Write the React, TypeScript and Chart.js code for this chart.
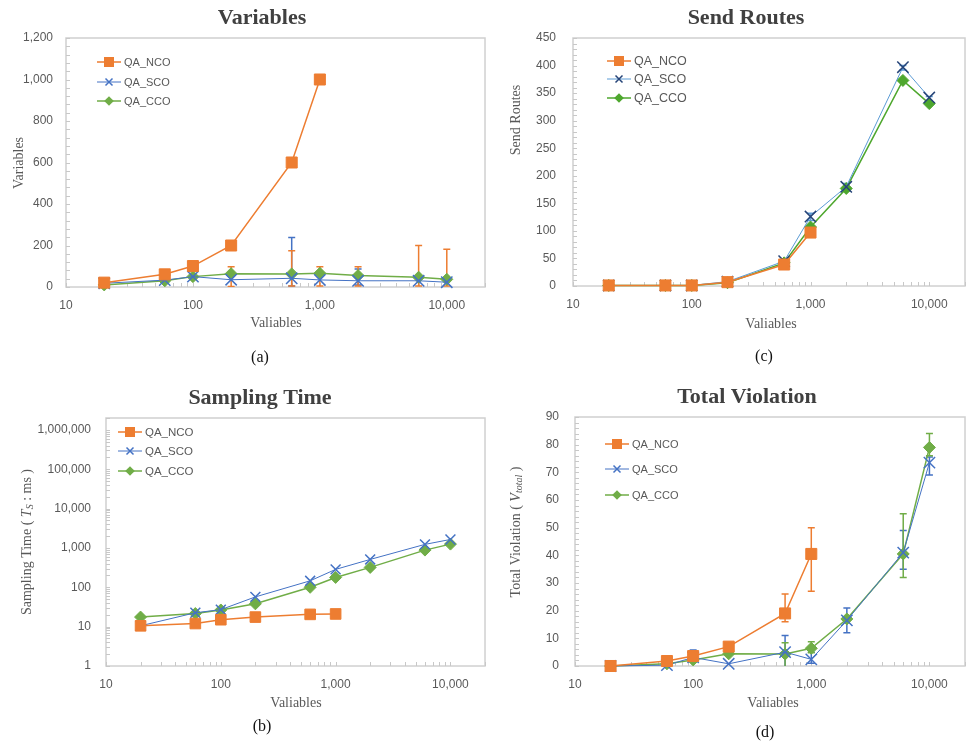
import React, { useEffect, useRef } from 'react';
import { Chart, registerables } from 'chart.js';

Chart.register(...registerables);

// ---------- DATA ----------
const xVals = [20, 60, 100, 200, 600, 1000, 2000, 6000, 10000];
const seriesNames = ['QA_NCO', 'QA_SCO', 'QA_CCO'];
const xTickVals = [10, 100, 1000, 10000];

// (a) Variables
const varNCO = [21, 61, 101, 200, 600, 1000];
const varSCO = [18, 33, 50, 35, 42, 34, 30, 30, 23];
const varCCO = [10, 30, 50, 64, 63, 66, 55, 47, 37];
const varErrSCO = [null, null, null, null, [5, 238], null, [10, 87], null, null];
const varErrCCO = [null, null, null, [2, 98], [5, 175], [5, 98], [5, 98], [5, 200], [5, 182]];
const varYTicks = [0, 200, 400, 600, 800, 1000, 1200];

// (b) Sampling Time
const timeNCO = [10.5, 12, 15, 17.5, 20.5, 21];
const timeSCO = [10.5, 22.5, 27, 57, 146, 285, 510, 1230, 1640];
const timeCCO = [17.5, 21.5, 26.5, 38, 100, 178, 320, 880, 1250];
const timeYTicks = [1, 10, 100, 1000, 10000, 100000, 1000000];

// (c) Send Routes
const routeNCO = [1, 1, 1, 7, 39, 97];
const routeSCO = [1, 1, 1, 8, 45, 126, 180, 397, 342];
const routeCCO = [1, 1, 1, 6, 42, 107, 177, 373, 331];
const routeErrSCO = [null, null, null, null, null, [119, 132], [172, 186], [392, 400], [336, 344]];
const routeYTicks = [0, 50, 100, 150, 200, 250, 300, 350, 400, 450];

// (d) Total Violation
const violNCO = [0, 1.8, 3.6, 7, 19, 40.5];
const violSCO = [0, 0.3, 3.1, 0.8, 5, 2.4, 16.5, 41, 73.5];
const violCCO = [0, 0.8, 2.2, 4.4, 4.3, 6.4, 17, 40.5, 79];
const violErrNCO = [null, null, null, null, [16, 26], [27, 50]];
const violErrSCO = [null, null, [1.5, 5.8], null, [0, 11], [1, 5], [12, 21], [35, 49], [69, 75.5]];
const violErrCCO = [null, null, null, null, [0, 8.4], [4.8, 8.8], null, [32, 55], [76, 84]];
const violYTicks = [0, 10, 20, 30, 40, 50, 60, 70, 80, 90];

// ---------- STYLE ----------
const ORANGE = '#ED7D31';
const BLUE = '#4472C4';
const GREEN = '#70AD47';

type Seg = { t: string; italic?: boolean; sub?: boolean };

function toPts(vals: number[]) {
  return vals.map((v, i) => ({ x: xVals[i], y: v }));
}

function drawMarker(ctx: CanvasRenderingContext2D, style: string, x: number, y: number, r: number, color: string) {
  ctx.save();
  ctx.fillStyle = color;
  ctx.strokeStyle = color;
  ctx.lineWidth = 1.5;
  if (style === 'rect') {
    ctx.fillRect(x - r, y - r, 2 * r, 2 * r);
  } else if (style === 'rectRot') {
    ctx.beginPath();
    ctx.moveTo(x - r, y);
    ctx.lineTo(x, y - r);
    ctx.lineTo(x + r, y);
    ctx.lineTo(x, y + r);
    ctx.closePath();
    ctx.fill();
  } else {
    ctx.beginPath();
    ctx.moveTo(x - r, y - r);
    ctx.lineTo(x + r, y + r);
    ctx.moveTo(x + r, y - r);
    ctx.lineTo(x - r, y + r);
    ctx.stroke();
  }
  ctx.restore();
}

function drawRich(ctx: CanvasRenderingContext2D, segs: Seg[], cx: number, cy: number, rotate: boolean, size: number) {
  ctx.save();
  ctx.translate(cx, cy);
  if (rotate) ctx.rotate(-Math.PI / 2);
  const fontOf = (s: Seg) => `${s.italic ? 'italic ' : ''}${s.sub ? Math.round(size * 0.72) : size}px "Liberation Serif"`;
  let total = 0;
  const widths = segs.map((s) => {
    ctx.font = fontOf(s);
    const w = ctx.measureText(s.t).width;
    total += w;
    return w;
  });
  let x = -total / 2;
  ctx.textBaseline = 'middle';
  ctx.textAlign = 'left';
  ctx.fillStyle = '#595959';
  segs.forEach((s, i) => {
    ctx.font = fontOf(s);
    ctx.fillText(s.t, x, s.sub ? 3 : 0);
    x += widths[i];
  });
  ctx.restore();
}

interface Panel {
  left: number; top: number; width: number; height: number;
  area: { left: number; top: number; right: number; bottom: number };
  title: string; titlePos: [number, number];
  yTitle: Seg[]; yTitlePos: [number, number];
  xTitlePos: [number, number];
  caption: string; captionPos: [number, number];
  legend: { x1: number; x2: number; tx: number; ys: number[]; font: number };
  yLog: boolean; yMin: number; yMax: number; yTicks: number[]; yMinorStep: number;
  yPad: number;
  datasets: any[];
}

const legendMarkers = [
  { style: 'rect', r: 5, color: ORANGE },
  { style: 'crossRot', r: 3.5, color: BLUE },
  { style: 'rectRot', r: 4.8, color: GREEN },
];

function series(vals: number[], i: number, opts: any = {}) {
  const base = [
    { color: ORANGE, pointStyle: 'rect', pointRadius: 7.8, borderWidth: 1.5 },
    { color: BLUE, pointStyle: 'crossRot', pointRadius: 8, borderWidth: 1 },
    { color: GREEN, pointStyle: 'rectRot', pointRadius: 6, borderWidth: 1.5 },
  ][i];
  const color = opts.color || base.color;
  return {
    label: seriesNames[i],
    data: toPts(vals),
    borderColor: color,
    backgroundColor: opts.markerColor || color,
    pointBackgroundColor: opts.markerColor || color,
    pointBorderColor: opts.markerColor || color,
    pointBorderWidth: i === 1 ? 1.5 : 1,
    pointStyle: base.pointStyle,
    pointRadius: opts.pointRadius || base.pointRadius,
    borderWidth: base.borderWidth,
    tension: 0,
    showLine: true,
    clip: false,
    errorBars: opts.errorBars || null,
    errorColor: opts.errorColor || color,
  };
}

const panels: Panel[] = [
  {
    left: 0, top: 0, width: 488, height: 370,
    area: { left: 66, top: 38, right: 485, bottom: 287 },
    title: 'Variables', titlePos: [262, 18],
    yTitle: [{ t: 'Variables' }], yTitlePos: [19, 163],
    xTitlePos: [276, 323],
    caption: '(a)', captionPos: [260, 358],
    legend: { x1: 97, x2: 121, tx: 124, ys: [62, 82, 101], font: 11 },
    yLog: false, yMin: 0, yMax: 1200, yTicks: varYTicks, yMinorStep: 40, yPad: 13,
    datasets: [
      series(varNCO, 0),
      series(varSCO, 1, { errorBars: varErrSCO }),
      series(varCCO, 2, { errorBars: varErrCCO, errorColor: ORANGE }),
    ],
  },
  {
    left: 488, top: 0, width: 478, height: 370,
    area: { left: 85, top: 38, right: 477, bottom: 286 },
    title: 'Send Routes', titlePos: [258, 18],
    yTitle: [{ t: 'Send Routes' }], yTitlePos: [28, 120],
    xTitlePos: [283, 324],
    caption: '(c)', captionPos: [276, 357],
    legend: { x1: 119, x2: 143, tx: 146, ys: [61, 79, 98], font: 12.5 },
    yLog: false, yMin: 0, yMax: 450, yTicks: routeYTicks, yMinorStep: 10, yPad: 17,
    datasets: [
      series(routeNCO, 0),
      series(routeSCO, 1, { color: '#5B9BD5', markerColor: '#264478', errorBars: routeErrSCO }),
      series(routeCCO, 2, { color: '#4EA72E' }),
    ],
  },
  {
    left: 0, top: 370, width: 488, height: 373,
    area: { left: 106, top: 48, right: 485, bottom: 296 },
    title: 'Sampling Time', titlePos: [260, 28],
    yTitle: [{ t: 'Sampling Time ( ' }, { t: 'T', italic: true }, { t: 'S', italic: true, sub: true }, { t: ' : ms )' }],
    yTitlePos: [27, 172],
    xTitlePos: [296, 333],
    caption: '(b)', captionPos: [262, 357],
    legend: { x1: 118, x2: 142, tx: 145, ys: [62, 81, 101], font: 11.5 },
    yLog: true, yMin: 1, yMax: 2000000, yTicks: timeYTicks, yMinorStep: 0, yPad: 15,
    datasets: [
      series(timeNCO, 0, { pointRadius: 7.5 }),
      series(timeSCO, 1, { pointRadius: 7 }),
      series(timeCCO, 2),
    ],
  },
  {
    left: 488, top: 370, width: 478, height: 373,
    area: { left: 87, top: 47, right: 477, bottom: 296 },
    title: 'Total Violation', titlePos: [259, 27],
    yTitle: [{ t: 'Total Violation ( ' }, { t: 'V', italic: true }, { t: 'total', italic: true, sub: true }, { t: ' )' }],
    yTitlePos: [28, 162],
    xTitlePos: [285, 333],
    caption: '(d)', captionPos: [277, 363],
    legend: { x1: 117, x2: 141, tx: 144, ys: [74, 99, 125], font: 11 },
    yLog: false, yMin: 0, yMax: 90, yTicks: violYTicks, yMinorStep: 2, yPad: 16,
    datasets: [
      series(violNCO, 0, { errorBars: violErrNCO }),
      series(violSCO, 1, { errorBars: violErrSCO }),
      series(violCCO, 2, { errorBars: violErrCCO }),
    ],
  },
];

function decorPlugin(p: Panel) {
  return {
    id: 'decor',
    beforeDatasetsDraw(chart: any) {
      const { ctx, chartArea: ca, scales } = chart;
      const xs = scales.x, ys = scales.y;
      // frame
      ctx.save();
      ctx.strokeStyle = '#d0d0d0';
      ctx.lineWidth = 1.5;
      ctx.strokeRect(ca.left, ca.top, ca.right - ca.left, ca.bottom - ca.top);
      // minor ticks
      ctx.strokeStyle = '#c8c8c8';
      ctx.lineWidth = 1;
      ctx.beginPath();
      for (let d = 10; d < 20000; d *= 10) {
        for (let m = 1; m <= 9; m++) {
          const v = d * m;
          if (v > 20000) break;
          const px = Math.round(xs.getPixelForValue(v)) + 0.5;
          ctx.moveTo(px, ca.bottom);
          ctx.lineTo(px, ca.bottom - 4);
        }
      }
      const yVals: number[] = [];
      if (p.yLog) {
        for (let d = 1; d < p.yMax; d *= 10) for (let m = 1; m <= 9; m++) if (d * m <= p.yMax) yVals.push(d * m);
      } else {
        for (let v = p.yMin; v <= p.yMax + 1e-9; v += p.yMinorStep) yVals.push(v);
      }
      yVals.forEach((v) => {
        const py = Math.round(ys.getPixelForValue(v)) + 0.5;
        ctx.moveTo(ca.left, py);
        ctx.lineTo(ca.left + 4, py);
      });
      ctx.stroke();
      ctx.restore();

      // error bars
      ctx.save();
      ctx.beginPath();
      ctx.rect(ca.left, ca.top - 2, ca.right - ca.left, ca.bottom - ca.top + 2);
      ctx.clip();
      chart.data.datasets.forEach((ds: any) => {
        const eb = ds.errorBars;
        if (!eb) return;
        ctx.strokeStyle = ds.errorColor;
        ctx.lineWidth = 1.5;
        eb.forEach((e: any, i: number) => {
          if (!e) return;
          const px = xs.getPixelForValue(xVals[i]);
          const lo = ys.getPixelForValue(e[0]);
          const hi = ys.getPixelForValue(e[1]);
          ctx.beginPath();
          ctx.moveTo(px, lo);
          ctx.lineTo(px, hi);
          ctx.moveTo(px - 3.5, hi);
          ctx.lineTo(px + 3.5, hi);
          if (e[0] > p.yMin) {
            ctx.moveTo(px - 3.5, lo);
            ctx.lineTo(px + 3.5, lo);
          }
          ctx.stroke();
        });
      });
      ctx.restore();
    },
    afterDraw(chart: any) {
      const { ctx } = chart;
      ctx.save();
      // title
      ctx.fillStyle = '#404040';
      ctx.font = 'bold 22px "Liberation Serif"';
      ctx.textAlign = 'center';
      ctx.textBaseline = 'middle';
      ctx.fillText(p.title, p.titlePos[0], p.titlePos[1]);
      // x title
      ctx.fillStyle = '#595959';
      ctx.font = '14px "Liberation Serif"';
      ctx.fillText('Valiables', p.xTitlePos[0], p.xTitlePos[1]);
      // caption
      ctx.fillStyle = '#111';
      ctx.font = '16px "Liberation Serif"';
      ctx.fillText(p.caption, p.captionPos[0], p.captionPos[1]);
      ctx.restore();
      drawRich(ctx, p.yTitle, p.yTitlePos[0], p.yTitlePos[1], true, 14);
      // legend
      const lg = p.legend;
      chart.data.datasets.forEach((ds: any, i: number) => {
        const y = lg.ys[i];
        ctx.save();
        ctx.strokeStyle = ds.borderColor;
        ctx.lineWidth = ds.borderWidth;
        ctx.beginPath();
        ctx.moveTo(lg.x1, y);
        ctx.lineTo(lg.x2, y);
        ctx.stroke();
        ctx.restore();
        const mk = legendMarkers[i];
        drawMarker(ctx, mk.style, (lg.x1 + lg.x2) / 2, y, mk.r, ds.pointBackgroundColor);
        ctx.save();
        ctx.fillStyle = '#595959';
        ctx.font = `${lg.font}px "Liberation Sans"`;
        ctx.textAlign = 'left';
        ctx.textBaseline = 'middle';
        ctx.fillText(ds.label, lg.tx, y + 0.5);
        ctx.restore();
      });
    },
  };
}

function fmt(v: any) {
  return Number(v).toLocaleString('en-US');
}

function PanelChart({ p }: { p: Panel }) {
  const ref = useRef<HTMLCanvasElement>(null);
  useEffect(() => {
    const canvas = ref.current!;
    const chart = new Chart(canvas, {
      type: 'line',
      data: { datasets: p.datasets },
      options: {
        animation: false,
        responsive: false,
        devicePixelRatio: 1,
        layout: { autoPadding: false, padding: { left: 0, top: p.area.top, right: p.width - p.area.right, bottom: 0 } },
        plugins: { legend: { display: false }, title: { display: false }, tooltip: { enabled: false } },
        scales: {
          x: {
            type: 'logarithmic',
            min: 10,
            max: 20000,
            grid: { display: false, drawTicks: false },
            border: { display: false },
            afterBuildTicks: (s: any) => { s.ticks = xTickVals.map((v) => ({ value: v })); },
            afterFit: (s: any) => {
              s.height = p.height - p.area.bottom;
              s.paddingLeft = 0; s.paddingRight = 0; s.paddingTop = 0; s.paddingBottom = 0;
            },
            ticks: {
              autoSkip: false,
              maxRotation: 0,
              padding: 11,
              color: '#595959',
              font: { family: 'Liberation Sans', size: 12 },
              callback: (v: any) => fmt(v),
            },
          },
          y: {
            type: p.yLog ? 'logarithmic' : 'linear',
            min: p.yMin,
            max: p.yMax,
            grid: { display: false, drawTicks: false },
            border: { display: false },
            afterBuildTicks: (s: any) => { s.ticks = p.yTicks.map((v) => ({ value: v })); },
            afterFit: (s: any) => {
              s.width = p.area.left;
              s.paddingLeft = 0; s.paddingRight = 0; s.paddingTop = 0; s.paddingBottom = 0;
            },
            ticks: {
              autoSkip: false,
              padding: p.yPad,
              color: '#595959',
              font: { family: 'Liberation Sans', size: 12 },
              callback: (v: any) => fmt(v),
            },
          },
        },
      } as any,
      plugins: [decorPlugin(p)],
    });
    return () => chart.destroy();
  }, [p]);
  return (
    <canvas
      ref={ref}
      width={p.width}
      height={p.height}
      style={{ position: 'absolute', left: p.left, top: p.top, width: p.width, height: p.height }}
    />
  );
}

export default function App() {
  return (
    <div style={{ position: 'absolute', left: 0, top: 0, width: 966, height: 743, background: '#fff', overflow: 'hidden' }}>
      {panels.map((p, i) => (
        <PanelChart key={i} p={p} />
      ))}
    </div>
  );
}
